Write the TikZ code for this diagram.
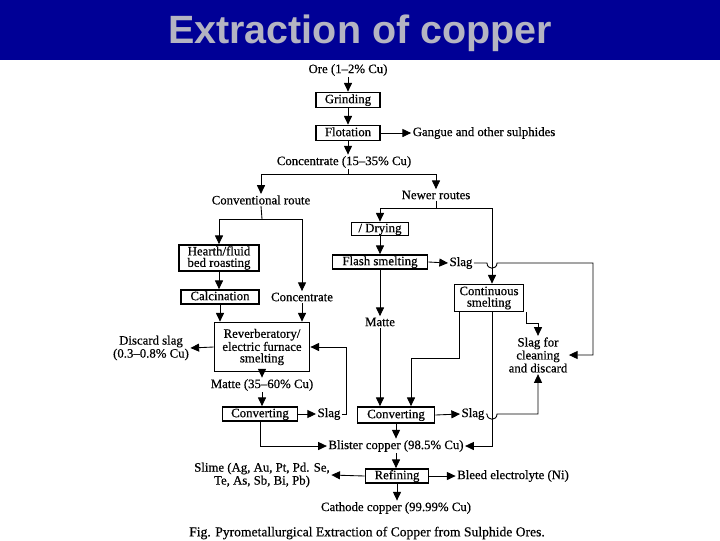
\documentclass[tikz,border=0pt]{standalone}
\usepackage{fontspec}
\setmainfont{Liberation Serif}
\newfontfamily\titlefont{Liberation Sans}
\newfontfamily\dgfam{Liberation Serif}[FakeBold=0.5]
\usetikzlibrary{arrows.meta}
\definecolor{bannerblue}{RGB}{0,0,150}
\definecolor{titlegray}{RGB}{180,180,194}
\newcommand\dgfont{\dgfam\fontsize{9.6}{8.6}\selectfont}
\begin{document}
\begin{tikzpicture}[x=0.75pt,y=-0.75pt,
  box/.style={draw, line width=1.3pt, inner sep=0pt, font=\dgfont, text height=6.2pt, text depth=1.4pt},
  mbox/.style={draw, line width=1.3pt, inner sep=0pt, font=\dgfont, align=center},
  lbl/.style={inner sep=1pt, font=\dgfont},
  mlbl/.style={lbl, align=center},
  conn/.style={line width=0.65pt},
  arr/.style={conn, -{Triangle[length=6.5pt,width=6pt]}}]
\useasboundingbox (0,0) rectangle (720,540);
\fill[white] (0,0) rectangle (720,540);
% banner
\fill[bannerblue] (0,0) rectangle (720,60);
\node[font=\titlefont\bfseries\fontsize{29.6}{32}\selectfont, text=titlegray] (title) at (360,33) {Extraction of copper};

% main column
\node[lbl] (ore) at (348,70) {Ore (1–2\% Cu)};
\node[box, minimum width=48pt, minimum height=11.25pt] (grind) at (348,100) {Grinding};
\node[box, minimum width=48pt, minimum height=11.25pt] (flot) at (348,133) {Flotation};
\node[lbl] (gangue) at (484,133) {Gangue and other sulphides};
\node[lbl] (conc) at (344,162) {Concentrate (15–35\% Cu)};
\node[lbl] (conv) at (261,200) {Conventional route};
\node[lbl] (newer) at (436,195) {Newer routes};

% conventional route
\node[mbox, minimum width=60pt, minimum height=19.5pt] (hearth) at (219,258) {Hearth/fluid\\bed roasting};
\node[box, minimum width=58.5pt, minimum height=10.5pt] (calc) at (220,297) {Calcination};
\node[lbl] (conc2) at (302,297) {Concentrate};
\node[mbox, minimum width=71.25pt, minimum height=36.75pt] (reverb) at (262,347) {Reverberatory/\\electric furnace\\smelting};
\node[mlbl] (discard) at (151,348) {Discard slag\\(0.3–0.8\% Cu)};
\node[lbl] (matte1) at (262,385) {Matte (35–60\% Cu)};
\node[box, minimum width=56.25pt, minimum height=10.5pt] (convert1) at (260,414) {Converting};
\node[lbl] (slag1) at (329,414) {Slag};

% newer routes
\node[box, minimum width=42.75pt, minimum height=9.75pt] (drying) at (380,229) {/ Drying};
\node[box, minimum width=71.25pt, minimum height=10.5pt] (flash) at (380,262) {Flash smelting};
\node[lbl] (slag2) at (461,263) {Slag};
\node[mbox, minimum width=51.75pt, minimum height=20.25pt] (contin) at (489,298) {Continuous\\smelting};
\node[lbl] (matte2) at (380,322) {Matte};
\node[mlbl] (slagclean) at (538,355) {Slag for\\cleaning\\and discard};
\node[box, minimum width=57.75pt, minimum height=12pt] (convert2) at (396,415) {Converting};
\node[lbl] (slag3) at (473,414) {Slag};

% final steps
\node[lbl] (blister) at (396,446) {Blister copper (98.5\% Cu)};
\node[box, minimum width=47.25pt, minimum height=10.5pt] (refining) at (397,476) {Refining};
\node[mlbl] (slime) at (262,475) {Slime (Ag, Au, Pt, Pd. Se,\\Te, As, Sb, Bi, Pb)};
\node[lbl] (bleed) at (513,476) {Bleed electrolyte (Ni)};
\node[lbl] (cathode) at (396,508) {Cathode copper (99.99\% Cu)};
\node[inner sep=1pt, font=\dgfam\fontsize{10.2}{12}\selectfont] (caption) at (367,533) {Fig. Pyrometallurgical Extraction of Copper from Sulphide Ores.};

% coordinates
\coordinate (splitC) at (348,174);
\coordinate (splitL) at (262,219);
\coordinate (splitR) at (436,208);
\coordinate (vR) at (492,208);
\coordinate (r1) at (346,414);
\coordinate (cA) at (459,358);
\coordinate (cB) at (411,358);
\coordinate (sA) at (526,323);
\coordinate (sB) at (538,323);
\coordinate (j1a) at (487,263);
\coordinate (j1b) at (497,263);
\coordinate (c1) at (593,263);
\coordinate (j2a) at (487,414);
\coordinate (j2b) at (497,414);
\coordinate (c2) at (538,414);

% connectors: main column
\draw[arr] (ore) -- (grind);
\draw[arr] (grind) -- (flot);
\draw[arr] (flot.east) -- (gangue.west);
\draw[arr] (flot.south) -- (flot.south |- conc.north);
\draw[conn] (flot.south |- conc.south) -- (splitC);
\draw[arr] (splitC) -| (conv.north);
\draw[arr] (splitC) -| (newer.north);

% conventional
\draw[conn] (conv.south) -- (splitL);
\draw[arr] (splitL) -| (hearth.north);
\draw[arr] (splitL) -| (conc2.north);
\draw[arr] (hearth.south) -- (hearth.south |- calc.north);
\draw[arr] (calc.south) -- (calc.south |- reverb.north);
\draw[arr] (conc2.south) -- (conc2.south |- reverb.north);
\draw[arr] (reverb.west) -- (discard.east);
\draw[arr] (reverb.south) -- (matte1.north);
\draw[arr] (matte1.south) -- (matte1.south |- convert1.north);
\draw[arr] (convert1.east) -- (slag1.west);
\draw[arr] (slag1.east) -- (r1) |- (reverb.east);
\draw[arr] (convert1.south) |- (blister.west);

% newer
\draw[conn] (newer.south) -- (splitR);
\draw[arr] (splitR) -| (drying.north);
\draw[arr] (splitR) -- (vR) -- (vR |- contin.north);
\draw[arr] (drying.south) -- (drying.south |- flash.north);
\draw[arr] (flash.east) -- (slag2.west);
\draw[arr] (slag2.east) -- (j1a) .. controls (487,270) and (497,270) .. (j1b) -- (c1) |- (slagclean.east);
\draw[arr] (flash.south) -- (flash.south |- matte2.north);
\draw[arr] (matte2.south) -- (matte2.south |- convert2.north);
\draw[arr] (cA |- contin.south) -- (cA) -- (cB) -- (cB |- convert2.north);
\draw[arr] (vR |- contin.south) |- (blister.east);
\draw[arr] (sA |- contin.south) -- (sA) -- (sB) -- (slagclean.north);
\draw[arr] (convert2.east) -- (slag3.west);
\draw[arr] (slag3.east) -- (j2a) .. controls (487,421) and (497,421) .. (j2b) -- (c2) -- (slagclean.south);

% final
\draw[arr] (convert2.south) -- (convert2.south |- blister.north);
\draw[arr] (blister.south) -- (blister.south |- refining.north);
\draw[arr] (refining.west) -- (slime.east);
\draw[arr] (refining.east) -- (bleed.west);
\draw[arr] (refining.south) -- (refining.south |- cathode.north);
\end{tikzpicture}
\end{document}
